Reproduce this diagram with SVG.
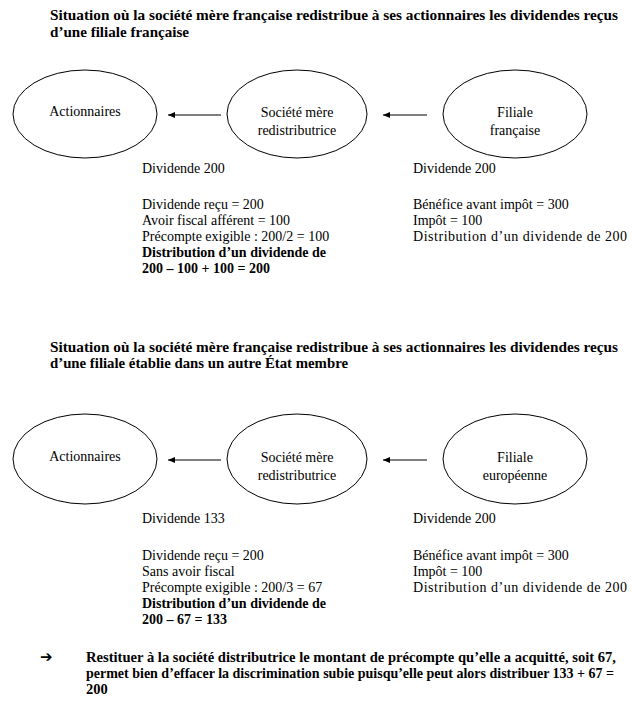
<svg xmlns="http://www.w3.org/2000/svg" width="632" height="701" viewBox="0 0 632 701">
<style>
text{font-family:"Liberation Serif","DejaVu Serif","Noto Serif",serif;fill:#000}
.t{font-size:14px}
.b{font-size:14px;font-weight:bold}
.h{font-size:15.5px;font-weight:bold}
.p{font-size:14.5px;font-weight:bold}
.c{text-anchor:middle}
.e{fill:#fff;stroke:#000;stroke-width:1}
.a{stroke:#000;stroke-width:1}
</style>
<defs>
<marker id="ah" markerWidth="7" markerHeight="6" refX="7" refY="3" orient="auto" markerUnits="userSpaceOnUse">
<path d="M0,0 L7,3 L0,6 Z" fill="#000"/>
</marker>
</defs>
<rect width="632" height="701" fill="#fff"/>

<g id="title1">
<text class="h" x="50" y="20" textLength="568" lengthAdjust="spacingAndGlyphs">Situation  où la société mère française redistribue  à ses actionnaires  les dividendes reçus</text>
<text class="h" x="50" y="37" textLength="139" lengthAdjust="spacingAndGlyphs">d’une  filiale française</text>
</g>

<g id="n-actionnaires-1"><ellipse class="e" cx="85" cy="114" rx="72" ry="44"/><text class="t c" x="85" y="116">Actionnaires</text></g>
<g id="n-societe-1"><ellipse class="e" cx="297" cy="114" rx="70" ry="44"/><text class="t c" x="297" y="117">Société mère</text><text class="t c" x="297" y="135">redistributrice</text></g>
<g id="n-filiale-1"><ellipse class="e" cx="515" cy="114" rx="72" ry="44"/><text class="t c" x="515" y="117">Filiale</text><text class="t c" x="515" y="135">française</text></g>

<g id="connectors">
<line class="a" x1="221" y1="115" x2="168" y2="115" marker-end="url(#ah)"/>
<line class="a" x1="427" y1="115" x2="383" y2="115" marker-end="url(#ah)"/>
<line class="a" x1="221" y1="460" x2="168" y2="460" marker-end="url(#ah)"/>
<line class="a" x1="427" y1="460" x2="383" y2="460" marker-end="url(#ah)"/>
</g>

<g id="texts1">
<text class="t" x="142" y="173">Dividende  200</text>
<text class="t" x="413" y="173">Dividende  200</text>
<text class="t" x="142" y="209">Dividende  reçu = 200</text>
<text class="t" x="142" y="225">Avoir fiscal  afférent  = 100</text>
<text class="t" x="142" y="241">Précompte exigible  : 200/2 = 100</text>
<text class="b" x="142" y="257">Distribution  d’un  dividende  de</text>
<text class="b" x="142" y="273">200 – 100 + 100 = 200</text>
<text class="t" x="413" y="209">Bénéfice  avant  impôt  = 300</text>
<text class="t" x="413" y="225">Impôt = 100</text>
<text class="t" x="413" y="241" textLength="214" lengthAdjust="spacing">Distribution  d’un  dividende  de 200</text>
</g>

<g id="title2">
<text class="h" x="50" y="352" textLength="568" lengthAdjust="spacingAndGlyphs">Situation  où la société mère française redistribue  à ses actionnaires  les dividendes reçus</text>
<text class="h" x="50" y="368" textLength="298" lengthAdjust="spacingAndGlyphs">d’une  filiale établie dans  un  autre État membre</text>
</g>

<g id="n-actionnaires-2"><ellipse class="e" cx="85" cy="459" rx="72" ry="45"/><text class="t c" x="85" y="461">Actionnaires</text></g>
<g id="n-societe-2"><ellipse class="e" cx="297" cy="459" rx="70" ry="45"/><text class="t c" x="297" y="462">Société mère</text><text class="t c" x="297" y="480">redistributrice</text></g>
<g id="n-filiale-2"><ellipse class="e" cx="515" cy="459" rx="72" ry="45"/><text class="t c" x="515" y="462">Filiale</text><text class="t c" x="515" y="480">européenne</text></g>

<g id="texts2">
<text class="t" x="142" y="523">Dividende  133</text>
<text class="t" x="413" y="523">Dividende  200</text>
<text class="t" x="142" y="560">Dividende  reçu = 200</text>
<text class="t" x="142" y="576">Sans avoir  fiscal</text>
<text class="t" x="142" y="592">Précompte exigible  : 200/3 = 67</text>
<text class="b" x="142" y="608">Distribution  d’un  dividende  de</text>
<text class="b" x="142" y="624">200 – 67 = 133</text>
<text class="t" x="413" y="560">Bénéfice  avant  impôt  = 300</text>
<text class="t" x="413" y="576">Impôt = 100</text>
<text class="t" x="413" y="592" textLength="214" lengthAdjust="spacing">Distribution  d’un  dividende  de 200</text>
</g>

<g id="conclusion">
<text x="40" y="662" style="font-family:'DejaVu Sans',sans-serif;font-size:15px;font-weight:bold">➔</text>
<text class="p" x="86" y="662" textLength="530" lengthAdjust="spacingAndGlyphs">Restituer à la société distributrice le montant de précompte qu’elle a acquitté, soit 67,</text>
<text class="p" x="86" y="678" textLength="528" lengthAdjust="spacingAndGlyphs">permet bien d’effacer la discrimination subie puisqu’elle peut alors distribuer 133 + 67 =</text>
<text class="p" x="86" y="694">200</text>
</g>
</svg>
